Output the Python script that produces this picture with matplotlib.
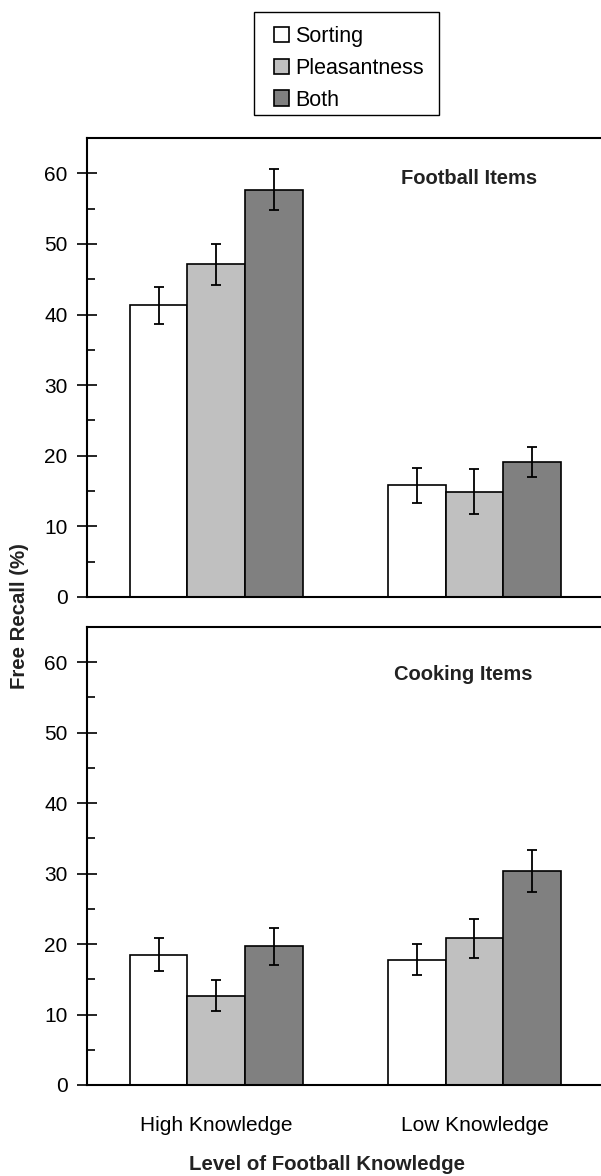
import numpy as np
import matplotlib.pyplot as plt
from matplotlib.patches import Rectangle
from matplotlib.ticker import MultipleLocator

plt.rcParams["font.family"] = ["Liberation Sans", "DejaVu Sans"]

# Дані
groups = ["High Knowledge", "Low Knowledge"]
conditions = ["Sorting", "Pleasantness", "Both"]
colors = ["#ffffff", "#c0c0c0", "#808080"]

football_means = [[41.3, 15.8], [47.1, 14.9], [57.7, 19.1]]
football_errs = [[2.6, 2.5], [2.9, 3.2], [2.9, 2.1]]
cooking_means = [[18.5, 17.8], [12.7, 20.8], [19.7, 30.4]]
cooking_errs = [[2.3, 2.2], [2.2, 2.8], [2.6, 3.0]]

panel_titles = ["Football Items", "Cooking Items"]

W, H = 601, 1176
fig = plt.figure(figsize=(W / 100, H / 100), dpi=100)

left = 87 / W
ax_top = fig.add_axes([left, 1 - 597 / H, 1 - left, 459 / H])
ax_bot = fig.add_axes([left, 1 - 1085 / H, 1 - left, 458 / H])

x = np.arange(len(groups))
width = 0.223

handles = []
for ax, means, errs, title, tx, ty in [
    (ax_top, football_means, football_errs, panel_titles[0], 0.98, 59.3),
    (ax_bot, cooking_means, cooking_errs, panel_titles[1], 0.955, 58.2),
]:
    for i, cond in enumerate(conditions):
        b = ax.bar(
            x + (i - 1) * width,
            means[i],
            width,
            color=colors[i],
            edgecolor="black",
            linewidth=1.2,
            label=cond,
            zorder=2,
        )
        ax.errorbar(
            x + (i - 1) * width,
            means[i],
            yerr=errs[i],
            fmt="none",
            ecolor="black",
            elinewidth=1.3,
            capsize=3.7,
            capthick=1.3,
            zorder=3,
        )
        if ax is ax_top:
            handles.append(b)

    ax.set_xlim(-0.5, 1.49)
    ax.set_ylim(0, 65)
    ax.yaxis.set_major_locator(MultipleLocator(10))
    ax.yaxis.set_minor_locator(MultipleLocator(5))
    ax.tick_params(axis="y", which="major", direction="inout", length=14,
                   width=1.2, labelsize=15, pad=7)
    ax.tick_params(axis="y", which="minor", direction="in", length=6,
                   width=1.2)
    ax.spines["right"].set_visible(False)
    for s in ["left", "top", "bottom"]:
        ax.spines[s].set_linewidth(1.5)
    ax.text(tx, ty, title, ha="center", va="center", fontsize=14.5,
            fontweight="bold", color="#222222")

ax_top.set_xticks([])
ax_bot.set_xticks(x)
ax_bot.set_xticklabels(groups, fontsize=15)
ax_bot.tick_params(axis="x", length=0, pad=22)

fig.text(20 / W, 1 - 616 / H, "Free Recall (%)", rotation=90, ha="center",
         va="center", fontsize=14.7, fontweight="bold", color="#222222")
fig.text(327 / W, 1 - 1164 / H, "Level of Football Knowledge", ha="center",
         va="center", fontsize=14.7, fontweight="bold", color="#222222")

# Легенда без рамки + окрема рамка
leg = fig.legend(
    handles,
    conditions,
    loc="upper left",
    bbox_to_anchor=(274 / W, 1 - 26 / H),
    fontsize=15.5,
    frameon=False,
    handlelength=0.7,
    handleheight=0.7,
    handletextpad=0.3,
    labelspacing=0.5,
    borderpad=0,
    borderaxespad=0,
)
fig.patches.append(Rectangle((254 / W, 1 - 115 / H), 185 / W, 103 / H,
                             transform=fig.transFigure, fill=False,
                             edgecolor="black", linewidth=1.0))

fig.savefig("out.png", dpi=100)
